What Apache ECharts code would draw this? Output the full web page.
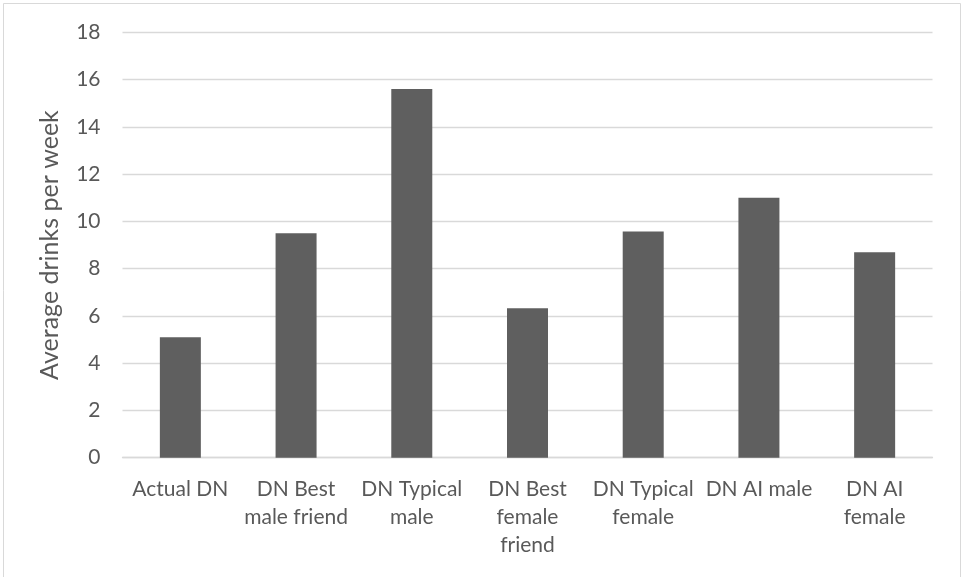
<!DOCTYPE html>
<html>
<head>
<meta charset="utf-8">
<script src="https://cdn.jsdelivr.net/npm/echarts@6/dist/echarts.min.js"></script>
<style>
html,body{margin:0;padding:0;background:#fff;}
#chart{width:962px;height:577px;}
</style>
</head>
<body>
<div id="chart"></div>
<script>
const categories = ["Actual DN", "DN Best\nmale friend", "DN Typical\nmale", "DN Best\nfemale\nfriend", "DN Typical\nfemale", "DN AI male", "DN AI\nfemale"];
const values = [5.1, 9.5, 15.6, 6.33, 9.57, 11.0, 8.69];
const yTicks = { min: 0, max: 18, interval: 2 };
const yTitle = "Average drinks per week";

const FONT = "Lato";
const chart = echarts.init(document.getElementById('chart'), null, { renderer: 'canvas' });
chart.setOption({
  animation: false,
  backgroundColor: '#ffffff',
  graphic: [{
    type: 'rect',
    shape: { x: 3.5, y: 3.5, width: 957, height: 620 },
    style: { fill: 'none', stroke: '#d9d9d9', lineWidth: 1 },
    silent: true
  }],
  grid: { left: 122.5, right: 29.5, top: 32.4, bottom: 119.3, containLabel: false },
  xAxis: {
    type: 'category',
    data: categories,
    axisLine: { show: true, lineStyle: { color: '#d9d9d9', width: 1.3 } },
    axisTick: { show: false },
    axisLabel: {
      interval: 0,
      color: '#595959',
      fontFamily: FONT,
      fontSize: 21,
      lineHeight: 28,
      margin: 18
    }
  },
  yAxis: {
    type: 'value',
    min: yTicks.min,
    max: yTicks.max,
    interval: yTicks.interval,
    name: yTitle,
    nameLocation: 'middle',
    nameGap: 60,
    nameTextStyle: { color: '#595959', fontFamily: FONT, fontSize: 25 },
    axisLine: { show: false },
    axisTick: { show: false },
    splitLine: { show: true, lineStyle: { color: '#d9d9d9', width: 1.3 } },
    axisLabel: { color: '#595959', fontFamily: FONT, fontSize: 21, margin: 22 }
  },
  series: [{
    type: 'bar',
    data: values,
    barWidth: 41,
    itemStyle: { color: '#5f5f5f' }
  }]
});
</script>
</body>
</html>
